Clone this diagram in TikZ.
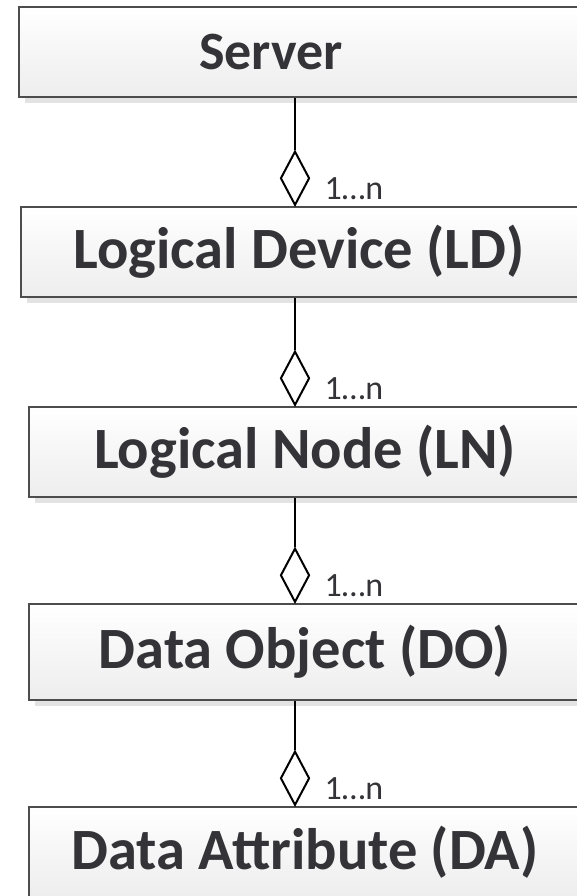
\documentclass[tikz,border=0pt]{standalone}
\usepackage{fontspec}
\setmainfont{Carlito}
\usetikzlibrary{shapes.geometric,shadows}
\definecolor{boxtext}{HTML}{333338}
\definecolor{boxline}{HTML}{4D4D4D}
\begin{document}
\begin{tikzpicture}[x=1pt,y=-1pt,node distance=200pt,
    class node/.style={draw=boxline,line width=1.5pt,top color=white,bottom color=black!7,
      minimum height=90pt,inner sep=0pt,
      drop shadow={shadow xshift=6pt,shadow yshift=-6pt,fill=black!11,opacity=1}},
    class text/.style={text=boxtext,font=\fontsize{58.5}{68}\selectfont\bfseries,inner sep=0pt},
    agg node/.style={draw,diamond,line width=2pt,fill=white,minimum width=29pt,minimum height=54pt,inner sep=0pt,anchor=south},
    mult node/.style={text=boxtext,font=\fontsize{34}{40}\selectfont,inner sep=0pt,anchor=base west}]
            \path[use as bounding box,clip] (0,0) rectangle (577,896);
            \node[class node,minimum width=572pt,
              label={[class text,font=\fontsize{54}{64}\selectfont\bfseries,xshift=-34pt]center:Server}] (srv) at (305,52) {};
            \node[class node,minimum width=568pt,
              label={[class text,xshift=-6pt]center:Logical Device (LD)}] (ld) [below of=srv] {};
            \node[class node,minimum width=552pt,
              label={[class text]center:Logical Node (LN)}] (ln) [below of=ld] {};
            \node[class node,minimum width=552pt,minimum height=96pt,
              label={[class text]center:Data Object (DO)}] (do) [below of=ln] {};
            \node[class node,minimum width=552pt,
              label={[class text]center:Data Attribute (DA)}] (da) [below of=do] {};
            % aggregation diamonds, 1...n
            \node[agg node] (a2) at ([xshift=-10pt]ld.north) {};
            \node[agg node] (a3) at ([xshift=-10pt]ln.north) {};
            \node[agg node] (a4) at ([xshift=-10pt]do.north) {};
            \node[agg node] (a5) at ([xshift=-10pt]da.north) {};
            \node[mult node] (m2) at ([xshift=14pt,yshift=-21pt]a2.east) {1…n};
            \node[mult node] (m3) at ([xshift=14pt,yshift=-21pt]a3.east) {1…n};
            \node[mult node] (m4) at ([xshift=14pt,yshift=-21pt]a4.east) {1…n};
            \node[mult node] (m5) at ([xshift=14pt,yshift=-21pt]a5.east) {1…n};
            \path[draw,line width=2pt]
            (srv.south -| a2.north) -- (a2.north)
            (ld.south -| a3.north) -- (a3.north)
            (ln.south -| a4.north) -- (a4.north)
            (do.south -| a5.north) -- (a5.north);
        \end{tikzpicture}
\end{document}
